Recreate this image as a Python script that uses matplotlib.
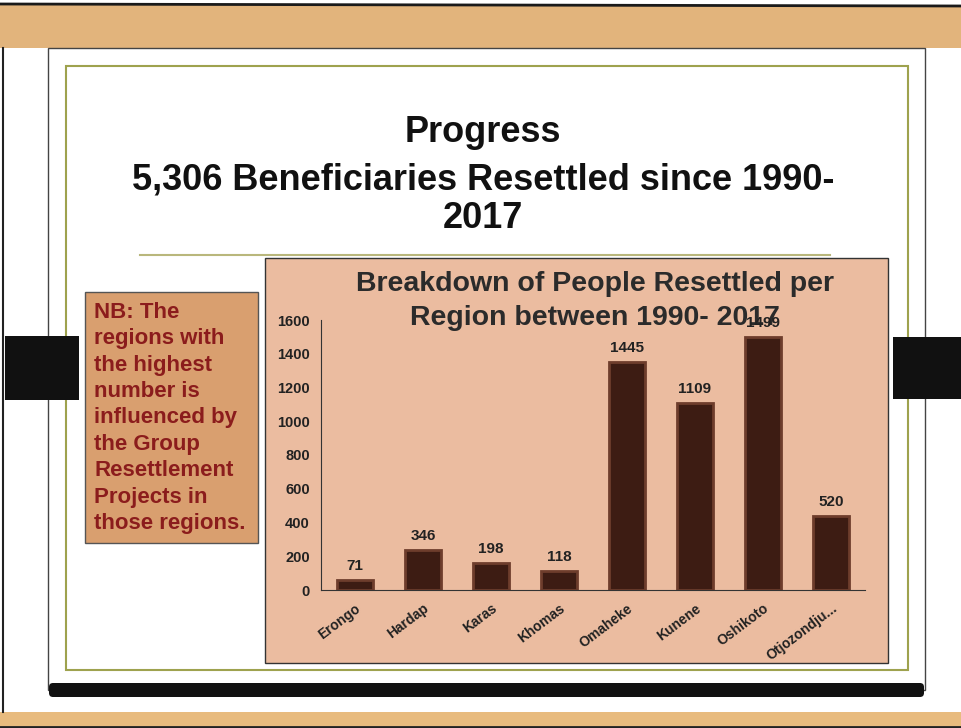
import matplotlib.pyplot as plt
from matplotlib.patches import Rectangle, FancyBboxPatch

plt.rcParams['font.family'] = ['Liberation Sans', 'DejaVu Sans']

regions = ['Erongo', 'Hardap', 'Karas', 'Khomas', 'Omaheke', 'Kunene', 'Oshikoto', 'Otjozondju...']
# bar heights as drawn on the slide
bar_heights = [59, 239, 160, 113, 1354, 1109, 1500, 441]
# data labels as printed on the slide
value_labels = ['71', '346', '198', '118', '1445', '1109', '1499', '520']

yticks = [0, 200, 400, 600, 800, 1000, 1200, 1400, 1600]

W, H = 961, 728
fig = plt.figure(figsize=(W / 100, H / 100), dpi=100)
fig.patch.set_facecolor('white')

# background slide, pixel coordinates
bg = fig.add_axes([0, 0, 1, 1])
bg.set_xlim(0, W)
bg.set_ylim(H, 0)
bg.axis('off')

bg.add_patch(Rectangle((0, 5), W, 43, facecolor='#e2b47c', edgecolor='none'))
bg.plot([0, W], [4, 6], color='#1a1a1a', lw=2)
bg.add_patch(Rectangle((0, 712), W, 16, facecolor='#e8bb7e', edgecolor='none'))
bg.plot([0, W], [727, 727], color='#222', lw=2)
bg.plot([3, 3], [48, 712], color='#222', lw=1.5)

bg.add_patch(Rectangle((48, 48), 877, 642, facecolor='white', edgecolor='#444', lw=1))
bg.add_patch(Rectangle((66, 66), 842, 604, facecolor='white', edgecolor='#9ea24e', lw=1.5))
bg.add_patch(FancyBboxPatch((50, 684), 873, 12, boxstyle='round,pad=1,rounding_size=4',
                            facecolor='#111', edgecolor='none'))
bg.add_patch(Rectangle((5, 336), 74, 64, facecolor='#111', edgecolor='none'))
bg.add_patch(Rectangle((893, 337), 68, 62, facecolor='#111', edgecolor='none'))

bg.plot([140, 830], [255, 255], color='#b9b77c', lw=1.5)

bg.text(483, 133, 'Progress', ha='center', va='center', fontsize=26, fontweight='bold', color='#111')
bg.text(483, 180, '5,306 Beneficiaries Resettled since 1990-', ha='center', va='center',
        fontsize=26, fontweight='bold', color='#111')
bg.text(483, 219, '2017', ha='center', va='center', fontsize=26, fontweight='bold', color='#111')

bg.add_patch(Rectangle((85, 292), 173, 251, facecolor='#d99f6f', edgecolor='#555', lw=1))
nb_lines = ['NB: The', 'regions with', 'the highest', 'number is', 'influenced by',
            'the Group', 'Resettlement', 'Projects in', 'those regions.']
for i, line in enumerate(nb_lines):
    bg.text(94, 312 + i * 26.5, line, ha='left', va='center', fontsize=16,
            fontweight='bold', color='#8b1c1c')

bg.add_patch(Rectangle((265, 258), 623, 405, facecolor='#ebbca0', edgecolor='#333', lw=1))
bg.text(595, 284, 'Breakdown of People Resettled per', ha='center', va='center',
        fontsize=20.5, fontweight='bold', color='#2b2b2b')
bg.text(595, 318, 'Region between 1990- 2017', ha='center', va='center',
        fontsize=20.5, fontweight='bold', color='#2b2b2b')

# the chart
ax = fig.add_axes([321 / W, 1 - 590 / H, 544 / W, 270 / H])
ax.patch.set_alpha(0)
x = list(range(len(regions)))
ax.bar(x, bar_heights, width=0.52, color='#3d1c13', edgecolor='#6e3d2c', lw=2)
for xi, h, lab in zip(x, bar_heights, value_labels):
    ax.annotate(lab, (xi, h), xytext=(0, 5), textcoords='offset points', ha='center',
                va='bottom', fontsize=11, fontweight='bold', color='#222')

ax.set_xlim(-0.5, len(regions) - 0.5)
ax.set_ylim(0, 1600)
ax.set_yticks(yticks)
ax.set_yticklabels([str(t) for t in yticks], fontsize=10.5, fontweight='bold')
ax.set_xticks(x)
ax.set_xticklabels(regions, rotation=37, ha='right', rotation_mode='anchor',
                   fontsize=10, fontweight='bold')
ax.tick_params(axis='both', length=0, pad=8, colors='#222')
for s in ['top', 'right']:
    ax.spines[s].set_visible(False)
ax.spines['left'].set_color('#333')
ax.spines['bottom'].set_color('#333')

fig.savefig('out.png', dpi=100)
